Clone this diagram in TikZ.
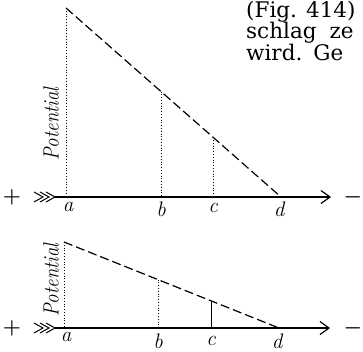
\documentclass[tikz,border=0pt]{standalone}
\usepackage{fontspec}
\usepackage{graphicx}
\newfontfamily\bookfont{DejaVu Serif}
\usetikzlibrary{arrows.meta,calc}
\begin{document}
\begin{tikzpicture}[x=1pt,y=-1pt,
  axis/.style={line width=1.2pt},
  axisarrow/.style={axis,-{Straight Barb[length=9pt,width=13pt,line width=1.2pt]}},
  chev/.style={line width=1pt},
  potline/.style={line width=1.2pt, dash pattern=on 9pt off 4pt},
  guide/.style={line width=0.8pt, dotted},
  lbl/.style={font=\fontsize{21}{21}\selectfont\itshape, anchor=base, inner sep=0pt},
  sign/.style={font=\fontsize{22}{22}\selectfont\boldmath, inner sep=0pt},
  potlabel/.style={font=\fontsize{22}{22}\selectfont\itshape, rotate=90, inner sep=0pt},
  book/.style={font=\bookfont\fontsize{21.5}{21.5}\selectfont, anchor=base west, inner sep=0pt},
  ]
\useasboundingbox (0,0) rectangle (363,351);
\clip (0,0) rectangle (363,351);

% book text
\node[book] (l1) at (246,17) {(Fig. 414)};
\node[book] (l2) at (246,38) {schlag\hspace{13pt}ze};
\node[book] (l3) at (246,60) {wird.\hspace{11pt}Ge};

% ---------- top diagram ----------
\coordinate (ta) at (55,197);
\coordinate (tA) at (66,197);
\coordinate (tP) at (66,8);
\coordinate (tD) at (281,197);
\coordinate (tE) at (331,197);
\draw[axisarrow] (ta) -- (tE);
\foreach \dx in {0,6,12}
  \draw[chev] ($(ta)+(-\dx-9,-5)$) -- ($(ta)+(-\dx,0)$) -- ($(ta)+(-\dx-9,5)$);
\draw[potline] (tP) -- (tD);
\draw[guide] (tP) -- (tA);
\coordinate (tb) at ($(tP)!0.442!(tD)$);
\coordinate (tc) at ($(tP)!0.684!(tD)$);
\draw[guide] (tb) -- (tb |- tA);
\draw[guide] (tc) -- (tc |- tA);
\node[sign] (tplus) at (12,197) {$+$};
\node[sign] (tminus) at (353,197) {$-$};
\node[potlabel] (tpot) at (51,124) {\scalebox{0.86}[1]{Potential}};
\node[lbl] (tla) at (68,211) {a};
\node[lbl] (tlb) at (161,216) {b};
\node[lbl] (tlc) at (213,212) {c};
\node[lbl] (tld) at (279,216) {d};

% ---------- bottom diagram ----------
\coordinate (ba) at (55,328);
\coordinate (bA) at (64,328);
\coordinate (bP) at (64,242);
\coordinate (bD) at (279,328);
\coordinate (bE) at (330,328);
\draw[axisarrow] (ba) -- (bE);
\foreach \dx in {0,6,12}
  \draw[chev] ($(ba)+(-\dx-9,-5)$) -- ($(ba)+(-\dx,0)$) -- ($(ba)+(-\dx-9,5)$);
\draw[potline] (bP) -- (bD);
\draw[guide] (bP) -- (bA);
\coordinate (bb) at ($(bP)!0.437!(bD)$);
\coordinate (bc) at ($(bP)!0.684!(bD)$);
\draw[guide] (bb) -- (bb |- bA);
\draw[line width=0.6pt] (bc) -- (bc |- bA);
\node[sign] (bplus) at (12,328) {$+$};
\node[sign] (bminus) at (353,328) {$-$};
\node[potlabel] (bpot) at (51,280) {\scalebox{0.86}[1]{Potential}};
\node[lbl] (bla) at (66,341) {a};
\node[lbl] (blb) at (158,348) {b};
\node[lbl] (blc) at (211,345) {c};
\node[lbl] (bld) at (277,348) {d};
\end{tikzpicture}
\end{document}
